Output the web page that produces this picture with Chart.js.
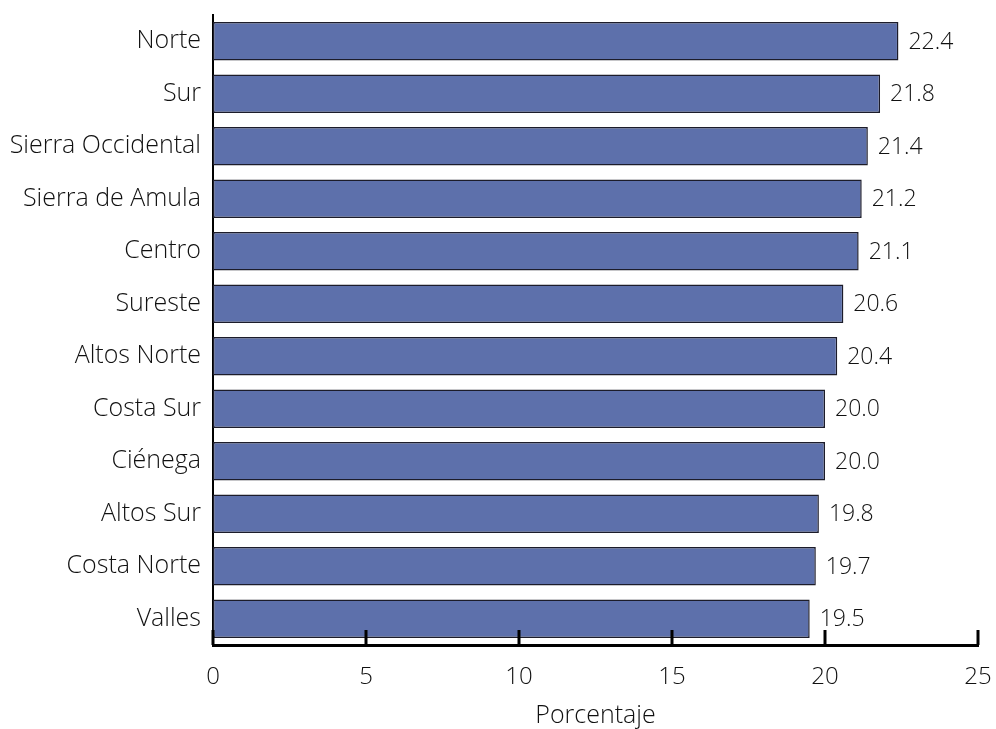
<!DOCTYPE html>
<html>
<head>
<meta charset="utf-8">
<script src="https://cdn.jsdelivr.net/npm/chart.js@4"></script>
<style>
  html, body { margin: 0; padding: 0; background: #fff; }
  #wrap { width: 996px; height: 729px; }
</style>
</head>
<body>
<div id="wrap"><canvas id="chart" width="996" height="729"></canvas></div>
<script>
const regiones = ["Norte", "Sur", "Sierra Occidental", "Sierra de Amula", "Centro", "Sureste",
                  "Altos Norte", "Costa Sur", "Ciénega", "Altos Sur", "Costa Norte", "Valles"]
const porcentajes = [22.4, 21.8, 21.4, 21.2, 21.1, 20.6, 20.4, 20.0, 20.0, 19.8, 19.7, 19.5]
const xTicks = [0, 5, 10, 15, 20, 25]

const FONT = "'Open Sans', 'Noto Sans', sans-serif"
const W = 350

// value labels to the right of each bar
const valueLabels = {
    id: 'valueLabels',
    afterDatasetsDraw(chart) {
        const { ctx } = chart
        const meta = chart.getDatasetMeta(0)
        ctx.save()
        ctx.font = `${W} 23px ${FONT}`
        ctx.fillStyle = '#111'
        ctx.textBaseline = 'middle'
        meta.data.forEach((bar, i) => {
            ctx.fillText(porcentajes[i].toFixed(1), bar.x + 10, bar.y + 1)
        })
        ctx.restore()
    }
}

// tick marks pointing up into the plot from the x axis
const innerTicks = {
    id: 'innerTicks',
    afterDraw(chart) {
        const { ctx } = chart
        const x = chart.scales.x
        const bottom = chart.chartArea.bottom
        ctx.save()
        ctx.strokeStyle = '#000'
        ctx.lineWidth = 3
        xTicks.forEach(v => {
            const px = Math.round(x.getPixelForValue(v))
            ctx.beginPath()
            ctx.moveTo(px, bottom)
            ctx.lineTo(px, bottom - 15)
            ctx.stroke()
        })
        ctx.restore()
    }
}

new Chart(document.getElementById('chart'), {
    type: 'bar',
    data: {
        labels: regiones,
        datasets: [{
            data: porcentajes,
            backgroundColor: '#5d70ab',
            borderColor: '#1c1c2a',
            borderWidth: 1.5,
            borderSkipped: false,
            barPercentage: 0.73,
            categoryPercentage: 1
        }]
    },
    options: {
        indexAxis: 'y',
        responsive: false,
        animation: false,
        layout: { padding: { top: 15, right: 18, left: 0, bottom: 0 } },
        plugins: { legend: { display: false }, tooltip: { enabled: false } },
        scales: {
            x: {
                min: 0,
                max: 25,
                afterBuildTicks: s => { s.ticks = xTicks.map(v => ({ value: v })) },
                afterFit: s => { s.height = 84; s.paddingLeft = 0; s.paddingRight = 0 },
                grid: { display: false, drawTicks: false },
                border: { display: true, color: '#000', width: 3 },
                ticks: { color: '#111', padding: 18, font: { family: FONT, size: 24, weight: W } },
                title: { display: true, text: 'Porcentaje', color: '#111', padding: { top: 4, bottom: -2 }, font: { family: FONT, size: 25, weight: W } }
            },
            y: {
                afterFit: s => { s.width = 213; s.paddingTop = 0; s.paddingBottom = 0 },
                grid: { display: false, drawTicks: false },
                border: { display: true, color: '#000', width: 2 },
                ticks: { color: '#111', padding: 12, font: { family: FONT, size: 25, weight: W } }
            }
        }
    },
    plugins: [valueLabels, innerTicks]
})
</script>
</body>
</html>
